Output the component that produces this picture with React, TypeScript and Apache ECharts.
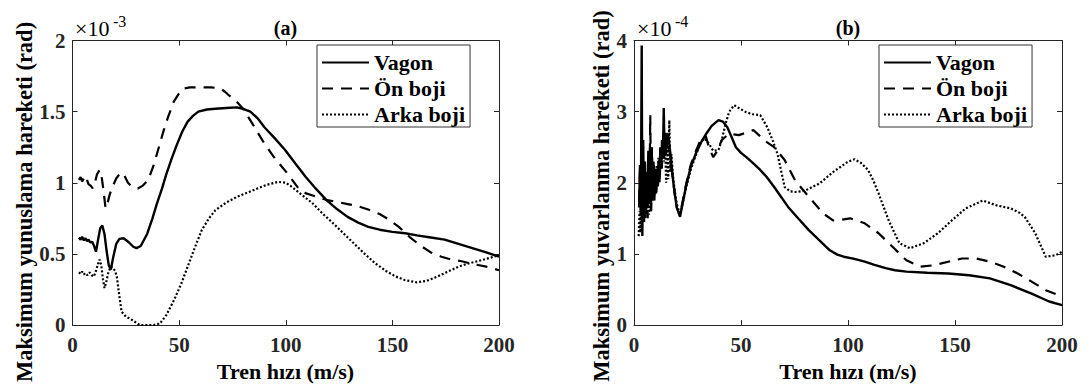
import React, { useEffect, useRef } from "react";
import * as echarts from "echarts";

// ---------- data ----------
const seriesNames = ["Vagon", "Ön boji", "Arka boji"];
const xTicks = [0, 50, 100, 150, 200];
const yTicksA = ["0", "0.5", "1", "1.5", "2"];
const yTicksB = ["0", "1", "2", "3", "4"];

// (a) ×10^-3 rad
const aVagon: number[][] = [
  [3, 0.615], [3.8, 0.6], [4.5, 0.62], [5.3, 0.595], [6, 0.61], [6.8, 0.59], [7.5, 0.6], [8.3, 0.58],
  [9.2, 0.585], [10, 0.56], [11, 0.515], [12, 0.6], [13, 0.68], [14, 0.7], [15, 0.64], [16, 0.52],
  [17, 0.42], [18, 0.39], [19, 0.47], [20.5, 0.57], [22, 0.605], [24, 0.61], [26.5, 0.58], [28.5, 0.55],
  [30, 0.54], [32, 0.555], [35, 0.64], [37.5, 0.75], [39.5, 0.85], [42, 0.96], [44, 1.06], [46.5, 1.17],
  [49, 1.27], [51.5, 1.36], [54, 1.43], [56.5, 1.47], [59, 1.5], [63, 1.515], [67, 1.52], [72, 1.525],
  [77, 1.53], [80, 1.52], [83.4, 1.5], [87, 1.45], [90, 1.39], [95, 1.31], [99.7, 1.23], [104.5, 1.135],
  [109.4, 1.04], [114, 0.96], [119, 0.88], [124, 0.815], [129, 0.76], [134, 0.72], [138.7, 0.69],
  [144, 0.67], [150, 0.655], [156, 0.645], [161.5, 0.63], [168, 0.615], [174.5, 0.6], [181, 0.57],
  [187.5, 0.54], [194, 0.51], [200, 0.48],
];
const aOnBoji: number[][] = [
  [3, 1.02], [3.8, 1.04], [4.5, 1.01], [5.3, 1.03], [6, 1.0], [6.8, 1.02], [7.5, 0.99], [8.5, 0.98],
  [9.5, 0.96], [10.5, 1.0], [11.5, 1.06], [12.7, 1.09], [13.5, 1.06], [14.5, 0.95], [15.5, 0.82],
  [16.5, 0.86], [17.5, 0.92], [19, 0.98], [20.5, 1.03], [22.5, 1.07], [24, 1.06], [26, 1.0], [28, 0.97],
  [30.6, 0.96], [33, 0.98], [35.5, 1.02], [38, 1.12], [40.5, 1.25], [42.8, 1.37], [45, 1.47], [47.5, 1.57],
  [50, 1.63], [51.5, 1.66], [55, 1.67], [60, 1.67], [65, 1.67], [69, 1.665], [71.5, 1.64], [73.7, 1.61],
  [77, 1.57], [80, 1.52], [85, 1.4], [90, 1.275], [95, 1.17], [100, 1.08], [103, 1.02], [106, 0.96],
  [109.5, 0.925], [112.7, 0.91], [119, 0.88], [124, 0.865], [129, 0.85], [134, 0.835], [139, 0.81],
  [144, 0.78], [148.5, 0.74], [153, 0.69], [158, 0.62], [163, 0.56], [168, 0.51], [173, 0.48],
  [177.7, 0.46], [182, 0.45], [187.5, 0.43], [194, 0.41], [200, 0.385],
];
const aArkaBoji: number[][] = [
  [3, 0.37], [3.8, 0.36], [4.5, 0.375], [5.3, 0.355], [6, 0.365], [7, 0.35], [8, 0.37], [9, 0.35],
  [10, 0.34], [11, 0.38], [12, 0.43], [12.7, 0.46], [13.5, 0.42], [14.3, 0.32], [15, 0.26], [15.8, 0.3],
  [16.8, 0.37], [18, 0.41], [19, 0.4], [20, 0.38], [20.8, 0.34], [22, 0.2], [23, 0.094], [25, 0.06],
  [28, 0.035], [30, 0.015], [31.4, 0.0], [35, 0.0], [38, 0.0], [41, 0.01], [44, 0.07], [47.6, 0.175],
  [51, 0.29], [54, 0.41], [57.5, 0.55], [60.6, 0.667], [64, 0.75], [67, 0.807], [72, 0.86], [77, 0.9],
  [82, 0.93], [86.7, 0.96], [91, 0.985], [96.4, 1.006], [100, 1.0], [103, 0.97], [108, 0.91],
  [112.7, 0.854], [117.5, 0.78], [122.4, 0.713], [127, 0.645], [132, 0.573], [137, 0.5], [142, 0.433],
  [147, 0.38], [151.7, 0.34], [156, 0.315], [161.5, 0.3], [166, 0.31], [171, 0.34], [176, 0.375],
  [181, 0.41], [185, 0.43], [189, 0.445], [194, 0.465], [200, 0.49],
];

// (b) ×10^-4 rad
const bVagon: number[][] = [
  [2.4, 1.65], [2.8, 2.25], [3.2, 1.55], [3.6, 3.93], [3.9, 1.25], [4.3, 2.6], [4.7, 1.45], [5.1, 2.3],
  [5.5, 1.6], [5.9, 2.15], [6.3, 1.7], [6.7, 2.45], [7.1, 1.75], [7.5, 2.5], [7.9, 1.6], [8.3, 2.4],
  [8.7, 1.8], [9.1, 2.3], [9.5, 1.75], [9.9, 2.2], [10.3, 1.85], [10.7, 2.15], [11.1, 1.95], [11.5, 2.3],
  [11.9, 2.05], [12.3, 2.5], [12.7, 2.2], [13.1, 2.6], [13.5, 2.35], [13.9, 3.05], [14.3, 2.4],
  [14.7, 2.7], [15.2, 2.5], [15.8, 2.65], [16.5, 2.55], [17.2, 2.35], [18, 2.1], [19, 1.85], [20, 1.65],
  [21.5, 1.52], [23, 1.75], [24.5, 1.98], [26.5, 2.22], [29, 2.42], [31.4, 2.57], [34, 2.7], [36.3, 2.8],
  [39.5, 2.88], [41.5, 2.86], [43.6, 2.78], [45.5, 2.65], [47.6, 2.5], [50, 2.42], [52.5, 2.36],
  [55.5, 2.28], [59, 2.18], [62, 2.08], [65.5, 1.94], [69, 1.79], [72, 1.66], [77, 1.49], [81.8, 1.33],
  [87, 1.18], [91.5, 1.05], [95, 0.99], [98, 0.96], [103, 0.93], [107.8, 0.89], [112, 0.85],
  [117.6, 0.8], [122, 0.77], [127.3, 0.75], [137, 0.735], [146.8, 0.725], [156.6, 0.7], [166.3, 0.655],
  [176, 0.56], [185.8, 0.44], [194, 0.33], [200, 0.28],
];
const bOnBoji: number[][] = [
  [2.4, 1.75], [2.8, 2.2], [3.2, 1.6], [3.6, 2.05], [4.0, 1.5], [4.4, 2.2], [4.8, 1.65], [5.2, 2.0],
  [5.6, 1.55], [6.0, 2.2], [6.4, 1.5], [6.8, 2.4], [7.2, 1.7], [7.6, 2.95], [8.0, 1.6], [8.4, 2.5],
  [8.8, 1.75], [9.2, 2.25], [9.6, 1.8], [10.0, 2.1], [10.4, 1.85], [10.8, 2.2], [11.2, 1.95], [11.6, 2.3],
  [12.0, 2.0], [12.5, 2.45], [13.0, 2.2], [13.5, 2.6], [14.0, 2.3], [14.5, 2.65], [15.0, 2.4],
  [15.6, 2.7], [16.3, 2.5], [17.0, 2.35], [18, 2.1], [19, 1.85], [20, 1.65], [21.5, 1.55], [23, 1.78],
  [24.5, 2.0], [26.5, 2.25], [29, 2.45], [31.4, 2.62], [33.5, 2.66], [35, 2.5], [37, 2.36], [39, 2.45],
  [41, 2.6], [44.4, 2.69], [49, 2.67], [52, 2.7], [55.8, 2.74], [58, 2.68], [60.6, 2.6], [65.5, 2.5],
  [70.4, 2.32], [75.3, 2.03], [81.8, 1.8], [88.3, 1.57], [93, 1.47], [97, 1.48], [101, 1.5], [104, 1.47],
  [107.8, 1.43], [114.3, 1.29], [120.8, 1.1], [127.3, 0.91], [133.8, 0.82], [140.3, 0.84], [146.8, 0.89],
  [153.3, 0.935], [159.8, 0.935], [166.3, 0.89], [172.8, 0.82], [179.3, 0.725], [185.8, 0.61],
  [192.4, 0.49], [200, 0.4],
];
const bArkaBoji: number[][] = [
  [2.2, 1.25], [2.6, 1.6], [3.0, 1.3], [3.4, 2.0], [3.8, 1.45], [4.2, 2.25], [4.6, 1.55], [5.0, 1.95],
  [5.4, 1.5], [5.8, 2.1], [6.2, 1.6], [6.6, 2.0], [7.0, 1.55], [7.4, 2.2], [7.8, 1.7], [8.2, 2.05],
  [8.6, 1.75], [9.0, 2.15], [9.4, 1.8], [9.8, 2.1], [10.2, 1.9], [10.6, 2.25], [11.0, 2.0], [11.5, 2.35],
  [12.0, 2.1], [12.5, 2.45], [13.0, 2.2], [13.5, 2.55], [14.0, 2.3], [14.5, 2.6], [15.0, 2.0], [15.5, 2.5],
  [16.0, 2.05], [16.5, 2.88], [17.0, 2.15], [17.5, 2.4], [18.2, 2.1], [19, 1.9], [20, 1.7], [21.5, 1.55],
  [23, 1.75], [24.5, 1.95], [26.5, 2.18], [29, 2.4], [31.4, 2.58], [33, 2.62], [35, 2.55], [37, 2.45],
  [39.5, 2.46], [41, 2.6], [42.8, 2.83], [44.5, 3.0], [46.8, 3.09], [49, 3.05], [52.5, 2.99], [56, 2.96],
  [59, 2.95], [62.3, 2.78], [65, 2.58], [67, 2.41], [70.4, 1.94], [73, 1.88], [75.3, 1.87], [78, 1.88],
  [80, 1.89], [86.7, 1.99], [93, 2.15], [99.7, 2.29], [103, 2.33], [106, 2.28], [109.4, 2.18],
  [112, 2.02], [114.3, 1.85], [119, 1.47], [124, 1.15], [129, 1.08], [135.4, 1.15], [142, 1.29],
  [148.5, 1.47], [155, 1.64], [163, 1.75], [169.6, 1.68], [176, 1.64], [180, 1.58], [182.6, 1.52],
  [187.5, 1.29], [192.4, 0.96], [197, 0.98], [200, 1.03],
];

// ---------- styling ----------
const FONT = "'Liberation Serif', 'Times New Roman', serif";
const AX = "#262626";

const lineStyles = [
  { width: 2.4, type: "solid" as any },
  { width: 2.2, type: [11, 8] as any },
  { width: 2.2, type: [2, 2] as any },
];

function xAxisPair(gridIndex: number) {
  const common = {
    type: "value",
    gridIndex,
    min: 0,
    max: 200,
    interval: 50,
    splitLine: { show: false },
    axisLine: { show: true, onZero: false, lineStyle: { color: AX, width: 1 } },
    axisTick: { show: true, inside: true, length: 5, lineStyle: { color: AX } },
  };
  return [
    {
      ...common,
      position: "bottom",
      axisLabel: {
        show: true,
        margin: 9,
        color: AX,
        fontFamily: FONT,
        fontWeight: "bold",
        fontSize: 21,
        formatter: (v: number) => (xTicks.includes(v) ? String(v) : ""),
      },
    },
    { ...common, position: "top", axisLabel: { show: false } },
  ];
}

function yAxisPair(gridIndex: number, max: number, interval: number, labels: string[]) {
  const common = {
    type: "value",
    gridIndex,
    min: 0,
    max,
    interval,
    splitLine: { show: false },
    axisLine: { show: true, onZero: false, lineStyle: { color: AX, width: 1 } },
    axisTick: { show: true, inside: true, length: 5, lineStyle: { color: AX } },
  };
  return [
    {
      ...common,
      position: "left",
      axisLabel: {
        show: true,
        margin: 7,
        color: AX,
        fontFamily: FONT,
        fontWeight: "bold",
        fontSize: 21,
        formatter: (v: number) => labels[Math.round(v / interval)] ?? "",
      },
    },
    { ...common, position: "right", axisLabel: { show: false } },
  ];
}

function makeSeries(data: number[][][], xi: number, yi: number) {
  return data.map((d, i) => ({
    name: seriesNames[i],
    type: "line",
    xAxisIndex: xi,
    yAxisIndex: yi,
    data: d,
    symbol: "none",
    showSymbol: false,
    smooth: false,
    lineStyle: { color: "#000", ...lineStyles[i] },
    itemStyle: { color: "#000" },
    z: 3 - i,
  }));
}

function legendAt(left: number) {
  return {
    orient: "vertical",
    left,
    top: 45,
    data: seriesNames,
    selectedMode: false,
    backgroundColor: "#fff",
    borderColor: "#333",
    borderWidth: 1,
    padding: [5, 5, 0, 4],
    itemGap: 1,
    itemWidth: 47,
    itemHeight: 14,
    itemStyle: { color: "rgba(0,0,0,0)", borderWidth: 0, opacity: 0 },
    textStyle: {
      fontFamily: FONT,
      fontWeight: "bold",
      fontSize: 22,
      color: "#000",
      lineHeight: 25,
    },
  };
}

function txt(text: string, x: number, y: number, size: number, opts: any = {}) {
  return {
    type: "text",
    x,
    y,
    rotation: opts.rotation ?? 0,
    style: {
      text,
      fill: "#000",
      font: `${opts.weight ?? "bold"} ${size}px ${FONT}`,
      align: opts.align ?? "center",
      verticalAlign: "middle",
    },
    z: 10,
  };
}

export default function App() {
  const ref = useRef<HTMLDivElement>(null);
  useEffect(() => {
    if (!ref.current) return;
    const chart = echarts.init(ref.current, undefined, { renderer: "svg" });
    const option: any = {
      animation: false,
      backgroundColor: "#fff",
      grid: [
        { left: 72.5, top: 40.5, width: 426.5, height: 284.5, show: false },
        { left: 634, top: 40.5, width: 428, height: 284.5, show: false },
      ],
      xAxis: [...xAxisPair(0), ...xAxisPair(1)],
      yAxis: [...yAxisPair(0, 2, 0.5, yTicksA), ...yAxisPair(1, 4, 1, yTicksB)],
      legend: [legendAt(317), legendAt(879)],
      series: [
        ...makeSeries([aVagon, aOnBoji, aArkaBoji], 0, 0),
        ...makeSeries([bVagon, bOnBoji, bArkaBoji], 2, 2),
      ],
      graphic: [
        txt("(a)", 285.5, 28, 20),
        txt("(b)", 848, 28, 20),
        txt("×10", 75, 28, 22, { align: "left", weight: "normal" }),
        txt("-3", 113, 21, 16, { align: "left", weight: "normal" }),
        txt("×10", 637, 28, 22, { align: "left", weight: "normal" }),
        txt("-4", 675, 21, 16, { align: "left", weight: "normal" }),
        txt("Maksimum yunuslama hareketi (rad)", 24, 202, 22.5, { rotation: Math.PI / 2 }),
        txt("Maksimum yuvarlanma hareketi (rad)", 601, 196, 22.5, { rotation: Math.PI / 2 }),
        txt("Tren hızı (m/s)", 285.5, 371, 22),
        txt("Tren hızı (m/s)", 848, 371, 22),
      ],
    };
    chart.setOption(option);
    return () => chart.dispose();
  }, []);
  return (
    <div
      ref={ref}
      style={{ position: "fixed", left: 0, top: 0, width: 1091, height: 387, overflow: "hidden" }}
    />
  );
}
